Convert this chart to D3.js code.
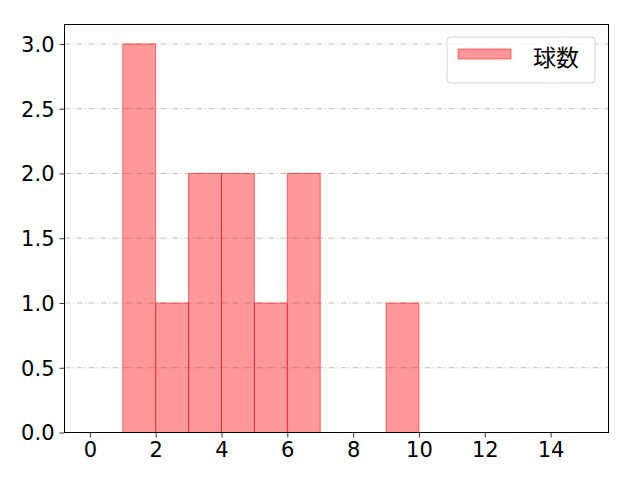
<!DOCTYPE html>
<html lang="ja">
<head>
<meta charset="utf-8">
<title>球数</title>
<script src="https://cdn.jsdelivr.net/npm/d3@7"></script>
<style>
    body { margin: 0; background: #fff; }
    svg { display: block; }
    .tick text { font-family: "DejaVu Sans", sans-serif; font-size: 21px; fill: #000; }
</style>
</head>
<body>
<svg width="640" height="480"></svg>
<script>
    // histogram bins (left edge .. left edge + 1) and counts
    var binStarts = [1, 2, 3, 4, 5, 6, 9];
    var counts = [3, 1, 2, 2, 1, 2, 1];
    var xTicks = [0, 2, 4, 6, 8, 10, 12, 14];
    var yTicks = [0, 0.5, 1.0, 1.5, 2.0, 2.5, 3.0];
    var seriesName = "球数";

    var margin = { left: 64.5, right: 640 - 608.5, top: 24.5, bottom: 480 - 432.5 };
    var width = 640 - margin.left - margin.right;
    var height = 480 - margin.top - margin.bottom;

    var svg = d3.select("svg");
    var g = svg.append("g").attr("transform", "translate(" + margin.left + "," + margin.top + ")");

    var x = d3.scaleLinear().domain([-0.77, 15.76]).range([0, width]);
    var y = d3.scaleLinear().domain([0, 3.15]).range([height, 0]);

    // grid
    g.selectAll("line.grid")
        .data(yTicks)
        .enter()
        .append("line")
        .attr("class", "grid")
        .attr("x1", 0)
        .attr("x2", width)
        .attr("y1", function (d) { return y(d); })
        .attr("y2", function (d) { return y(d); })
        .attr("stroke", "#b0b0b0")
        .attr("stroke-width", 0.8)
        .attr("stroke-dasharray", "6,2.5,1,2.5");

    // bars
    g.selectAll("rect.bar")
        .data(binStarts)
        .enter()
        .append("rect")
        .attr("class", "bar")
        .attr("x", function (d) { return x(d); })
        .attr("width", function (d) { return x(d + 1) - x(d); })
        .attr("y", function (d, i) { return y(counts[i]); })
        .attr("height", function (d, i) { return y(0) - y(counts[i]); })
        .attr("fill", "rgba(255,0,0,0.4)")
        .attr("stroke", "rgba(255,0,0,0.5)")
        .attr("stroke-width", 1);

    // axes
    var xAxis = g.append("g")
        .attr("transform", "translate(0," + height + ")")
        .call(d3.axisBottom(x).tickValues(xTicks).tickSize(5).tickPadding(5).tickFormat(d3.format("d")));
    var yAxis = g.append("g")
        .call(d3.axisLeft(y).tickValues(yTicks).tickSize(5).tickPadding(5).tickFormat(d3.format(".1f")));
    [xAxis, yAxis].forEach(function (a) {
        a.select(".domain").remove();
        a.selectAll(".tick line").attr("stroke", "#000").attr("stroke-width", 0.8);
    });
    yAxis.selectAll(".tick text").attr("dy", "0.35em");

    // frame
    g.append("rect")
        .attr("width", width)
        .attr("height", height)
        .attr("fill", "none")
        .attr("stroke", "#000")
        .attr("stroke-width", 1);

    // legend
    var lg = g.append("g").attr("transform", "translate(" + (447 - margin.left) + "," + (37 - margin.top) + ")");
    lg.append("rect")
        .attr("width", 148)
        .attr("height", 46)
        .attr("rx", 4)
        .attr("fill", "rgba(255,255,255,0.8)")
        .attr("stroke", "#d5d5d5")
        .attr("stroke-width", 1);
    lg.append("rect")
        .attr("x", 11)
        .attr("y", 12)
        .attr("width", 53)
        .attr("height", 10)
        .attr("fill", "rgba(255,0,0,0.4)")
        .attr("stroke", "rgba(255,0,0,0.5)");
    lg.append("text")
        .attr("x", 86)
        .attr("y", 29.2)
        .attr("font-family", "Noto Sans CJK JP, sans-serif")
        .attr("font-size", 23)
        .text(seriesName);
</script>
</body>
</html>
